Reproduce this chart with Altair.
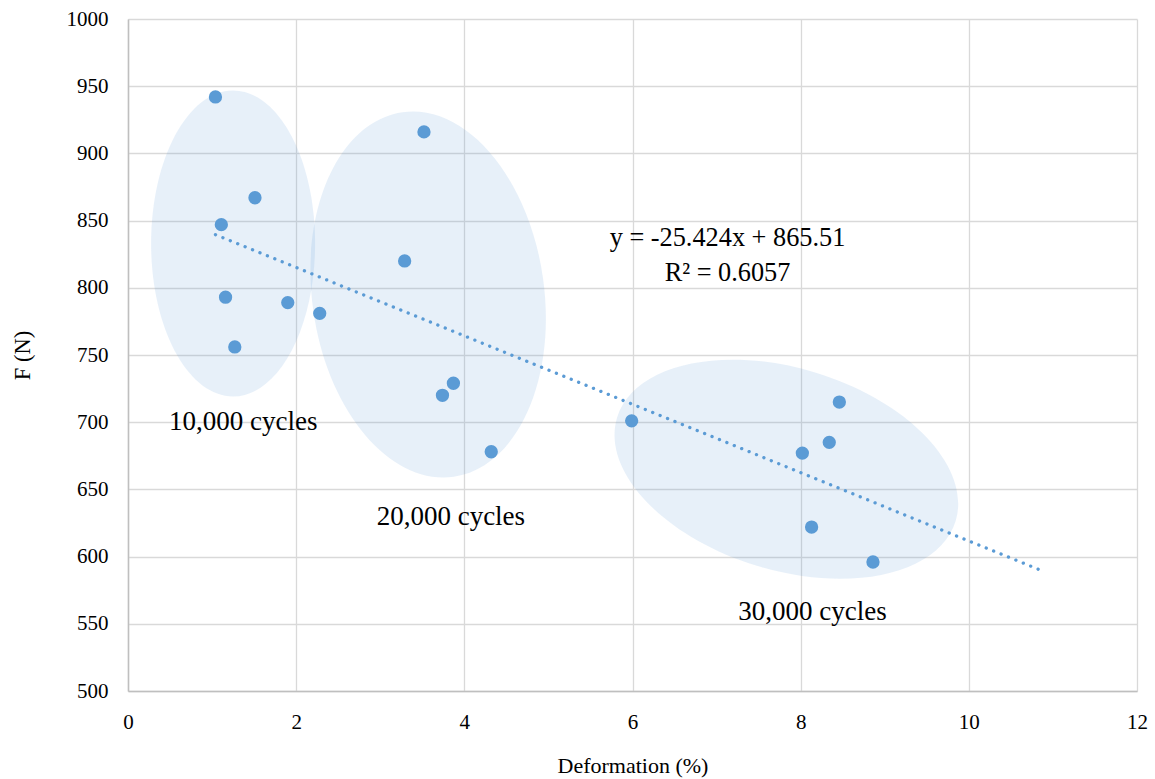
import altair as alt
import pandas as pd

# ---- data ----
deformation = [1.04, 1.51, 1.11, 1.16, 1.27, 1.90, 2.28, 3.52, 3.29, 3.87, 3.74, 4.32,
               5.99, 8.46, 8.34, 8.02, 8.13, 8.86]
force = [942, 867, 847, 793, 756, 789, 781, 916, 820, 729, 720, 678,
         701, 715, 685, 677, 622, 596]

trend_extent = [1.04, 10.86]

equation_text = ["y = -25.424x + 865.51", "R\u00b2 = 0.6057"]
equation_x = [7.13, 7.13]
equation_y = [837, 811]

cluster_labels = ["10,000 cycles", "20,000 cycles", "30,000 cycles"]
cluster_label_x = [1.37, 3.84, 8.14]
cluster_label_y = [700, 629.5, 559]

ellipse_x = [1.25, 3.57, 7.83]
ellipse_y = [833, 795, 665]

# ---- styles ----
BLUE = "#5b9bd5"
FONT = "Liberation Serif"
# pixel semi-axes (horizontal, vertical before rotation) and rotation angle
ellipse_style = [(82, 153, 0), (116, 184, 352), (177, 101, 17)]


def ellipse_path(rx, ry):
    k = 0.5523
    return (f"M {rx:.4f} 0 C {rx:.4f} {k*ry:.4f} {k*rx:.4f} {ry:.4f} 0 {ry:.4f} "
            f"C {-k*rx:.4f} {ry:.4f} {-rx:.4f} {k*ry:.4f} {-rx:.4f} 0 "
            f"C {-rx:.4f} {-k*ry:.4f} {-k*rx:.4f} {-ry:.4f} 0 {-ry:.4f} "
            f"C {k*rx:.4f} {-ry:.4f} {rx:.4f} {-k*ry:.4f} {rx:.4f} 0 Z")


pts = pd.DataFrame({"Deformation": deformation, "F": force})
eq = pd.DataFrame({"x": equation_x, "y": equation_y, "t": equation_text})
cl = pd.DataFrame({"x": cluster_label_x, "y": cluster_label_y, "t": cluster_labels})

xscale = alt.Scale(domain=[0, 12], nice=False, zero=False)
yscale = alt.Scale(domain=[500, 1000], nice=False, zero=False)

xaxis = alt.Axis(values=list(range(0, 13, 2)), title="Deformation (%)", grid=True, ticks=False,
                 format="d",
                 domainColor="#bfbfbf", domainWidth=1.5, gridColor="#d9d9d9", gridWidth=1.3,
                 labelFont=FONT, labelFontSize=21, labelColor="#000000", labelPadding=20,
                 labelFlush=False, labelOverlap=False,
                 titleFont=FONT, titleFontSize=22, titleFontWeight="normal", titleColor="#000000",
                 titleY=74, titleBaseline="middle")
yaxis = alt.Axis(values=list(range(500, 1001, 50)), title="F (N)", grid=True, ticks=False,
                 format="d",
                 domainColor="#bfbfbf", domainWidth=1.5, gridColor="#d9d9d9", gridWidth=1.3,
                 labelFont=FONT, labelFontSize=21, labelColor="#000000", labelPadding=20,
                 labelFlush=False, labelOverlap=False,
                 titleFont=FONT, titleFontSize=22.5, titleFontWeight="normal", titleColor="#000000",
                 titleX=-106, titleY=336, titleBaseline="middle")

layers = []
for i, (a, b, ang) in enumerate(ellipse_style):
    R = max(a, b)
    d = pd.DataFrame({"x": [ellipse_x[i]], "y": [ellipse_y[i]]})
    layers.append(
        alt.Chart(d).mark_point(filled=True, fill=BLUE, fillOpacity=0.15, opacity=1, strokeWidth=0)
        .encode(x=alt.X("x:Q", scale=xscale, axis=xaxis),
                y=alt.Y("y:Q", scale=yscale, axis=yaxis),
                shape=alt.value(ellipse_path(a / R, b / R)),
                size=alt.value((2 * R) ** 2),
                angle=alt.value(ang))
    )

trend = alt.Chart(pts).transform_regression(
    "Deformation", "F", extent=trend_extent
).mark_line(color=BLUE, strokeWidth=3.3, strokeDash=[0.1, 7.9], strokeCap="round").encode(
    x=alt.X("Deformation:Q", scale=xscale, axis=xaxis),
    y=alt.Y("F:Q", scale=yscale, axis=yaxis),
)

points = alt.Chart(pts).mark_circle(color=BLUE, opacity=1, size=177).encode(
    x=alt.X("Deformation:Q", scale=xscale, axis=xaxis),
    y=alt.Y("F:Q", scale=yscale, axis=yaxis),
)

eq_text = alt.Chart(eq).mark_text(font=FONT, fontSize=26.3, color="#000000",
                                  align="center", baseline="middle").encode(
    x=alt.X("x:Q", scale=xscale, axis=xaxis),
    y=alt.Y("y:Q", scale=yscale, axis=yaxis),
    text="t:N",
)

cl_text = alt.Chart(cl).mark_text(font=FONT, fontSize=27, color="#000000",
                                  align="center", baseline="middle").encode(
    x=alt.X("x:Q", scale=xscale, axis=xaxis),
    y=alt.Y("y:Q", scale=yscale, axis=yaxis),
    text="t:N",
)

chart = alt.layer(*layers, trend, points, eq_text, cl_text).properties(
    width=1009, height=672,
    autosize=alt.AutoSizeParams(type="none"),
    padding={"left": 128, "top": 19, "right": 18, "bottom": 88},
    background="white",
).configure_view(stroke=None)

chart.save("out.html", embed_options={"renderer": "svg", "actions": False})
